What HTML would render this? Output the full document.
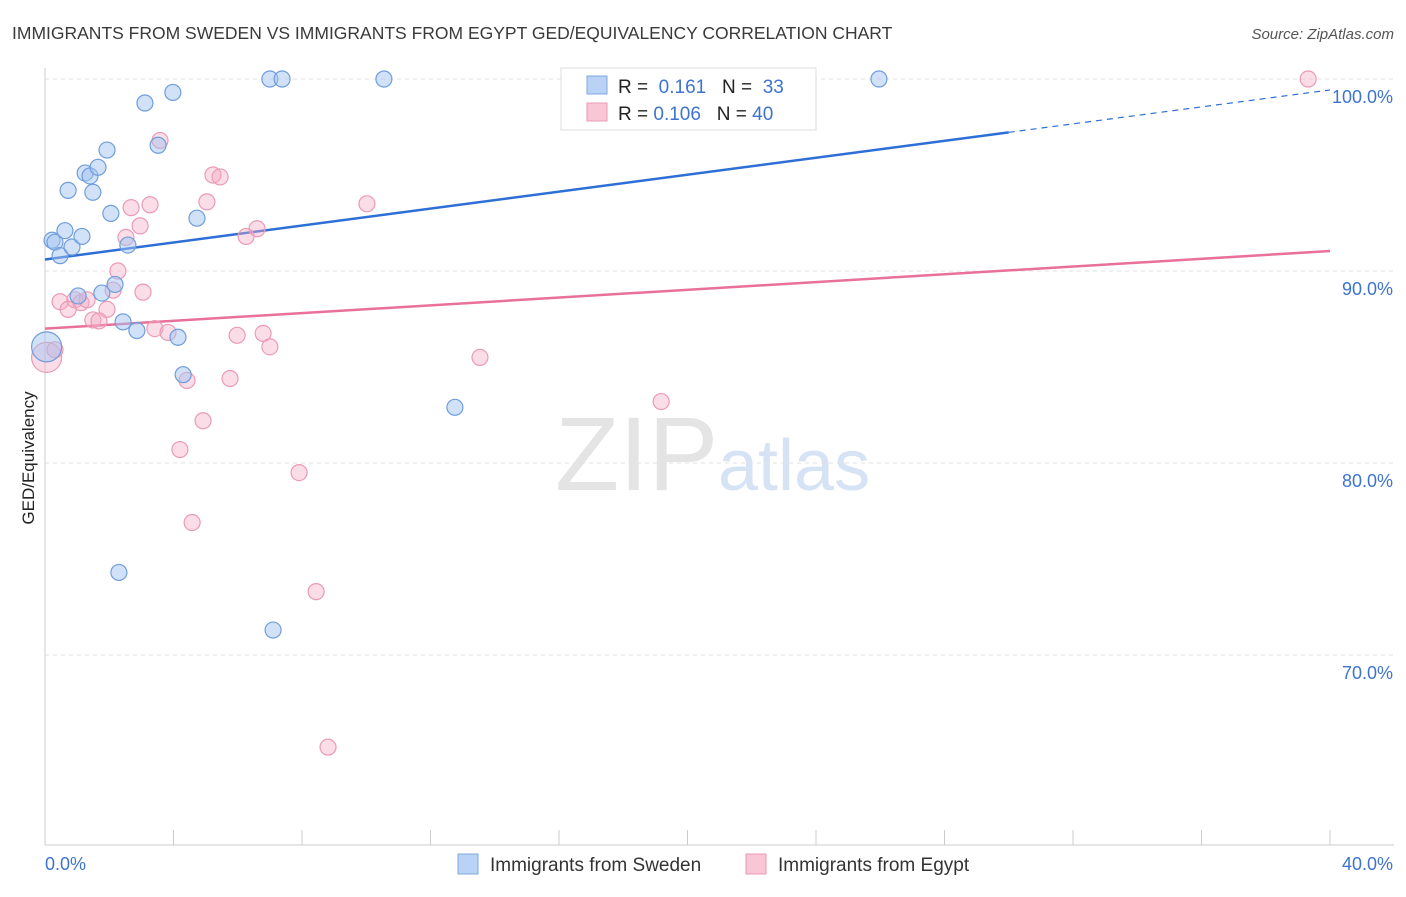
<!DOCTYPE html>
<html><head><meta charset="utf-8"><style>
body{margin:0;background:#fff;font-family:"Liberation Sans",sans-serif;}
svg text{font-family:"Liberation Sans",sans-serif;}
</style></head><body>
<svg id="chart" width="1406" height="892">
<text x="12" y="39" font-size="17.5" fill="#3a3a3a">IMMIGRANTS FROM SWEDEN VS IMMIGRANTS FROM EGYPT GED/EQUIVALENCY CORRELATION CHART</text>
<text x="1394" y="39" font-size="15" fill="#555" font-style="italic" text-anchor="end">Source: ZipAtlas.com</text>
<text x="555" y="490" font-size="105" fill="#e4e4e4" font-family="Liberation Serif">ZIP</text>
<text x="718" y="490" font-size="72" fill="#d6e3f5">atlas</text>
<g id="grid"></g><g id="axes"></g><g id="trend"></g><g id="pts"></g>
<text transform="translate(34,458) rotate(-90)" font-size="17" fill="#222" text-anchor="middle">GED/Equivalency</text>
<g>
<rect x="561" y="68" width="255" height="62" fill="#fff" stroke="#ddd"/>
<rect x="587" y="76" width="20" height="18" fill="#b9d2f5" stroke="#7fa8e0"/>
<rect x="587" y="103" width="20" height="18" fill="#f9c6d6" stroke="#eb9ab5"/>
<text x="618" y="93" font-size="19" fill="#222">R = <tspan fill="#3d74d0">&#160;0.161</tspan>&#160;&#160;&#160;N = <tspan fill="#3d74d0">&#160;33</tspan></text>
<text x="618" y="120" font-size="19" fill="#222">R = <tspan fill="#3d74d0">0.106</tspan>&#160;&#160;&#160;N = <tspan fill="#3d74d0">40</tspan></text>
</g>
<g>
<rect x="458" y="854" width="20" height="20" fill="#b9d2f5" stroke="#7fa8e0"/>
<text x="490" y="871" font-size="19" fill="#333">Immigrants from Sweden</text>
<rect x="746" y="854" width="20" height="20" fill="#f9c6d6" stroke="#eb9ab5"/>
<text x="778" y="871" font-size="19" fill="#333">Immigrants from Egypt</text>
</g>
</svg>
<script>
const yTicks=[100,90,80,70];
const xTickLabels=["0.0%","40.0%"];
const swedenX=[0.22,0.31,0.47,0.62,0.84,1.15,0.72,1.25,1.40,1.49,1.65,1.93,2.05,2.58,3.11,3.98,3.52,4.73,7.0,7.38,10.55,25.96,1.77,1.03,2.18,2.43,2.86,4.14,4.30,12.76,2.30,7.10,0.05];
const swedenY=[91.6,91.5,90.8,92.1,91.25,91.8,94.2,95.1,94.95,94.1,95.4,96.3,93.0,91.35,98.75,99.3,96.55,92.75,100,100,100,100,88.85,88.7,89.3,87.35,86.9,86.55,84.6,82.9,74.3,71.3,86.05];
const egyptX=[39.32,3.58,5.23,5.45,5.04,3.27,2.68,2.96,6.60,6.26,10.02,2.52,2.27,2.12,3.05,0.47,0.93,1.12,1.31,0.72,1.93,1.49,1.68,3.42,3.83,5.98,6.79,7.0,13.54,0.05,0.31,4.42,5.76,4.92,4.20,7.91,19.18,4.58,8.44,8.81];
const egyptY=[100,96.8,95.0,94.9,93.6,93.45,93.3,92.35,92.2,91.8,93.5,91.75,90.0,89.0,88.9,88.4,88.5,88.35,88.5,88.0,88.0,87.45,87.4,87.0,86.8,86.65,86.75,86.05,85.5,85.5,85.9,84.3,84.4,82.2,80.7,79.5,83.2,76.9,73.3,65.2];
const swedenTrend=[90.6,99.43];
const egyptTrend=[87.0,91.04];
const X=v=>45+v/40*1285, Y=v=>79+(100-v)*19.2;
const NS="http://www.w3.org/2000/svg";
function mk(p,t,a){const e=document.createElementNS(NS,t);for(const k in a)e.setAttribute(k,a[k]);p.appendChild(e);return e;}
const grid=document.getElementById('grid'),axes=document.getElementById('axes'),trend=document.getElementById('trend'),pts=document.getElementById('pts');
yTicks.forEach(t=>{
 const l=mk(grid,'line',{x1:45,x2:1394,y1:Y(t),y2:Y(t),stroke:'#e2e2e2','stroke-dasharray':'4,4'});
 
 
 const tx=mk(grid,'text',{x:1393,y:Y(t)+24,'font-size':18,fill:'#3d74d0','text-anchor':'end'});tx.textContent=t.toFixed(1)+'%';
 
 
});
mk(axes,'line',{x1:45,x2:45,y1:68,y2:845,stroke:'#ccc'});
mk(axes,'line',{x1:45,x2:1394,y1:845,y2:845,stroke:'#ccc'});
for(let i=0;i<=10;i++){mk(axes,'line',{x1:X(i*4),x2:X(i*4),y1:830,y2:845,stroke:'#ccc'});}
const xl0=mk(axes,'text',{x:45,y:870,'font-size':18,fill:'#3d74d0'});xl0.textContent=xTickLabels[0];


const xl1=mk(axes,'text',{x:1393,y:870,'font-size':18,fill:'#3d74d0','text-anchor':'end'});xl1.textContent=xTickLabels[1];


const sAt=x=>swedenTrend[0]+(swedenTrend[1]-swedenTrend[0])*x/40;
const b1=mk(trend,'line',{x1:X(0),y1:Y(sAt(0)),x2:X(30),y2:Y(sAt(30)),stroke:'#2d6fd6','stroke-width':2.5});


const b2=mk(trend,'line',{x1:X(30),y1:Y(sAt(30)),x2:X(40),y2:Y(sAt(40)),stroke:'#2d6fd6','stroke-width':1.2,'stroke-dasharray':'6,5'});


const p1=mk(trend,'line',{x1:X(0),y1:Y(egyptTrend[0]),x2:X(40),y2:Y(egyptTrend[1]),stroke:'#e8709a','stroke-width':2.5});


function draw(xs,ys,fill,stroke,name){xs.forEach((x,i)=>{const r=(x<0.1)?15:8;
 const c=mk(pts,'circle',{cx:X(x),cy:Y(ys[i]),r:r,fill:fill,stroke:stroke,'stroke-width':1.2});
 
 });}
draw(egyptX,egyptY,'rgba(245,170,195,0.4)','#eb9ab5','egypt-point');
draw(swedenX,swedenY,'rgba(164,196,240,0.5)','#6f9ddd','sweden-point');
</script>
</body></html>
